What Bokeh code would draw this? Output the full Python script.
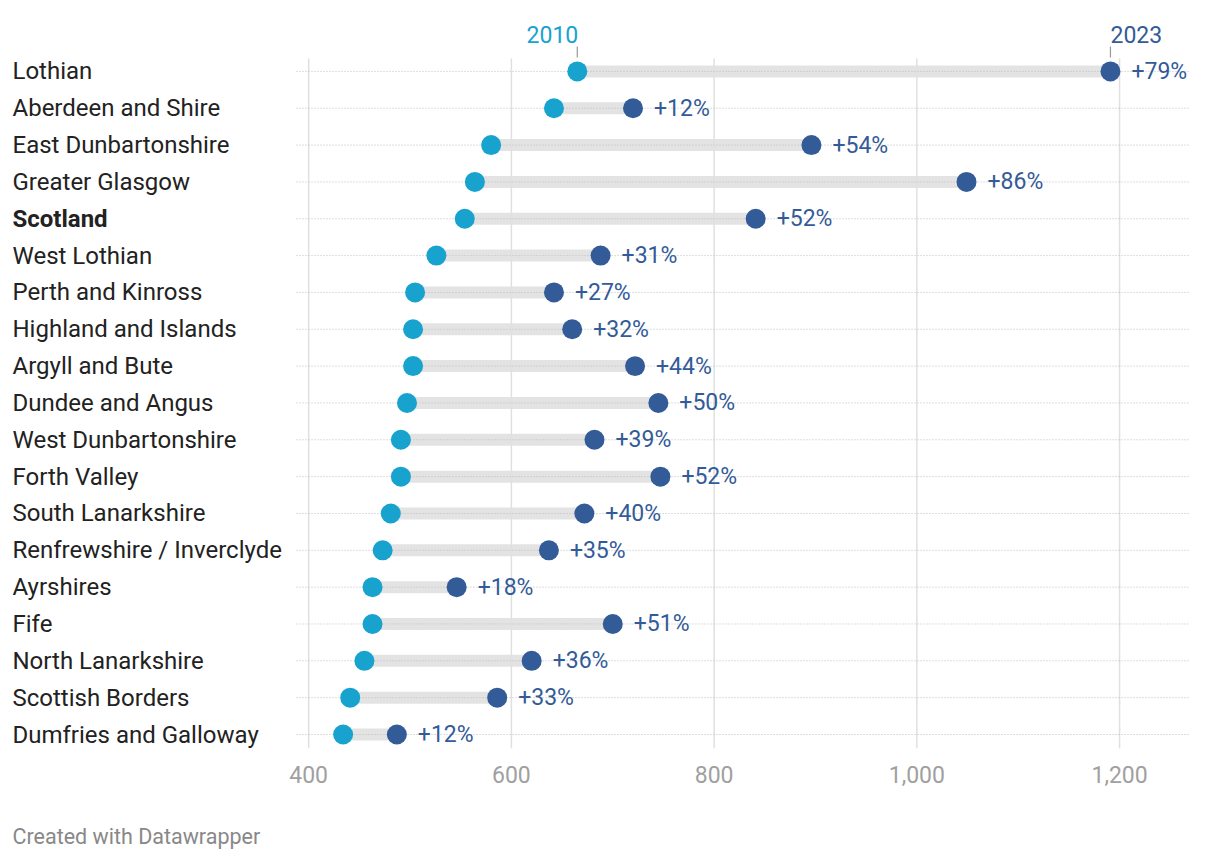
from bokeh.plotting import figure
from bokeh.layouts import column
from bokeh.models import (ColumnDataSource, Range1d, FixedTicker, NumeralTickFormatter)
from bokeh.core.properties import value
from bokeh.embed import file_html
from bokeh.resources import INLINE

regions = ["Lothian", "Aberdeen and Shire", "East Dunbartonshire", "Greater Glasgow",
           "Scotland", "West Lothian", "Perth and Kinross", "Highland and Islands",
           "Argyll and Bute", "Dundee and Angus", "West Dunbartonshire", "Forth Valley",
           "South Lanarkshire", "Renfrewshire / Inverclyde", "Ayrshires", "Fife",
           "North Lanarkshire", "Scottish Borders", "Dumfries and Galloway"]
v2010 = [665, 642, 580, 564, 554, 526, 505, 503, 503, 497, 491, 491, 481, 473, 463, 463, 455, 441, 434]
v2023 = [1191, 720, 896, 1049, 841, 688, 642, 660, 722, 745, 682, 747, 672, 637, 546, 700, 620, 586, 487]
pct = ["+79%", "+12%", "+54%", "+86%", "+52%", "+31%", "+27%", "+32%", "+44%", "+50%",
       "+39%", "+52%", "+40%", "+35%", "+18%", "+51%", "+36%", "+33%", "+12%"]
x_ticks = [400, 600, 800, 1000, 1200]
series_names = ["2010", "2023"]
highlight = "Scotland"
credit_text = "Created with Datawrapper"

C2010 = "#18a3cf"
C2023 = "#335b98"
FONT = value("Roboto")

rows = list(range(len(regions)))
src = ColumnDataSource(dict(row=rows, a=v2010, b=v2023, pct=pct, name=regions,
                            style=["bold" if r == highlight else "normal" for r in regions]))

# layout (canvas px) -> data ranges
W, H = 1210, 792
PLOT_L, PLOT_R = 296, 1188        # extent of the plotting area
PLOT_T, PLOT_B = 58, 748
X0, X1 = 388, 1268                # data values at PLOT_L / PLOT_R
Y0, Y1 = -0.35, 18.38             # row values at PLOT_T / PLOT_B
kx = (PLOT_R - PLOT_L) / (X1 - X0)
ky = (PLOT_B - PLOT_T) / (Y1 - Y0)
xr_start = X0 - PLOT_L / kx
xr_end = xr_start + W / kx
yr_top = Y0 - PLOT_T / ky


def dx(px):   # canvas x px -> data
    return xr_start + px / kx


def dy(py):   # canvas y px -> row units
    return yr_top + py / ky


p = figure(width=W, height=H, output_backend="svg", toolbar_location=None,
           x_range=Range1d(xr_start, xr_end), y_range=Range1d(Y1, yr_top),
           y_axis_location=None, min_border_left=0, min_border_right=0,
           min_border_top=0, min_border_bottom=H - PLOT_B, outline_line_color=None)
p.xgrid.grid_line_color = None
p.ygrid.grid_line_color = None

# bars
p.segment(x0="a", y0="row", x1="b", y1="row", source=src,
          line_color="#e3e3e3", line_width=12)
# vertical grid lines at the axis ticks
p.segment(x0=x_ticks, x1=x_ticks, y0=[Y0] * len(x_ticks), y1=[Y1] * len(x_ticks),
          line_color="#e0e0e0", line_width=1.5)
# dotted row lines
p.segment(x0=[X0] * len(rows), x1=[X1] * len(rows), y0=rows, y1=rows,
          line_color="#bdbdbd", line_width=1, line_dash="1 2")

p.scatter(x="a", y="row", source=src, size=20, fill_color=C2010, line_color=None)
p.scatter(x="b", y="row", source=src, size=20, fill_color=C2023, line_color=None)

p.text(x="b", y="row", text="pct", source=src, x_offset=21,
       text_baseline="middle", text_align="left", text_color=C2023,
       text_font=FONT, text_font_size="23px")

# row labels
p.text(x=dx(12), y="row", text="name", source=src, text_align="left",
       text_baseline="middle", text_font=FONT, text_font_size="24px",
       text_color="#222222", text_font_style="style")

# series annotations above first row
p.text(x=[v2010[0]], y=[dy(34)], text=[series_names[0]], x_offset=1,
       text_align="right", text_baseline="middle", text_font=FONT,
       text_font_size="23px", text_color=C2010)
p.text(x=[v2023[0]], y=[dy(34)], text=[series_names[1]],
       text_align="left", text_baseline="middle", text_font=FONT,
       text_font_size="23px", text_color=C2023)
p.segment(x0=[v2010[0], v2023[0]], x1=[v2010[0], v2023[0]],
          y0=[dy(46)] * 2, y1=[dy(57)] * 2, line_color="#999999", line_width=1.2)

ax = p.xaxis[0]
ax.ticker = FixedTicker(ticks=x_ticks)
ax.formatter = NumeralTickFormatter(format="0,0")
ax.axis_line_color = None
ax.major_tick_line_color = None
ax.minor_tick_line_color = None
ax.major_label_text_font = "Roboto"
ax.major_label_text_font_size = "23px"
ax.major_label_text_color = "#a0a0a0"
ax.major_label_standoff = 11

# credit line in its own strip below
CH = 58
c = figure(width=W, height=CH, output_backend="svg", toolbar_location=None,
           x_range=Range1d(0, W), y_range=Range1d(CH, 0),
           x_axis_location=None, y_axis_location=None, min_border=0,
           outline_line_color=None)
c.xgrid.grid_line_color = None
c.ygrid.grid_line_color = None
c.text(x=[12], y=[836 - H], text=[credit_text], text_align="left", text_baseline="middle",
       text_font=FONT, text_font_size="21.5px", text_color="#888888")

layout = column(p, c, spacing=0)
open("out.html", "w").write(file_html(layout, INLINE))
